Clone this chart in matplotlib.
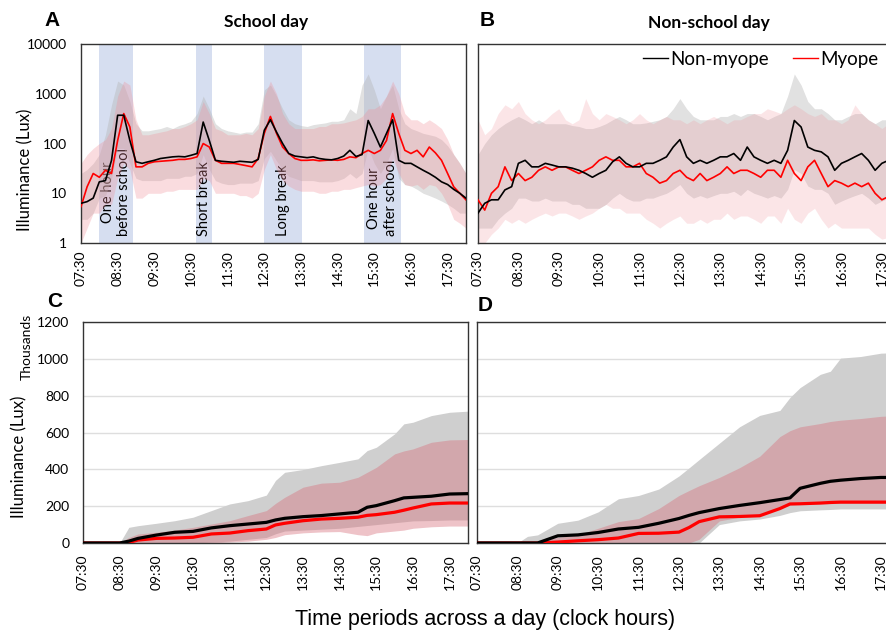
import numpy as np
import matplotlib
matplotlib.use('Agg')
import matplotlib.pyplot as plt

plt.rcParams['font.family'] = ['Lato', 'DejaVu Sans']

# ---- data -----------------------------------------------------------------
# panels A/B: mean illuminance (lux), 10-minute samples from 07:30 to 18:00
t_min = np.arange(0, 640, 10)
t_hr = 7.5 + t_min / 60.0

nm_school = [6.3, 6.8, 8, 17, 18, 46,
             370, 370, 115, 43, 40, 43,
             46, 50, 52, 54, 55, 54,
             58, 63, 270, 115, 46, 44,
             43, 42, 44, 43, 42, 48,
             185, 300, 170, 100, 63, 56,
             54, 52, 54, 50, 48, 47,
             50, 56, 73, 55, 60, 290,
             160, 85, 160, 300, 46, 40,
             40, 34, 29, 25, 21, 17,
             15, 12, 10, 8]
my_school = [5.4, 13.5, 25, 21, 29, 25,
             115, 400, 215, 34, 34, 40,
             43, 44, 45, 46, 48, 48,
             50, 54, 100, 85, 46, 40,
             40, 40, 38, 36, 34, 50,
             160, 350, 160, 85, 63, 50,
             46, 46, 47, 45, 46, 47,
             46, 48, 54, 52, 63, 73,
             63, 73, 115, 400, 160, 73,
             63, 73, 54, 85, 65, 46,
             25, 13.5, 10, 7.4]
nm_school_hi = [25, 30, 40, 60, 150, 600,
                1800, 1500, 700, 250, 180, 180,
                190, 200, 220, 200, 230, 250,
                280, 400, 900, 500, 250, 200,
                180, 170, 160, 170, 170, 250,
                1200, 1500, 900, 500, 300, 250,
                230, 220, 240, 250, 260, 280,
                280, 300, 500, 400, 1500, 2500,
                1200, 500, 900, 1500, 500, 250,
                200, 180, 160, 150, 140, 120,
                90, 60, 40, 25]
nm_school_lo = [3, 3, 4, 8, 9, 20,
                80, 80, 40, 20, 18, 18,
                18, 18, 20, 20, 20, 22,
                22, 25, 60, 30, 18, 16,
                15, 15, 16, 16, 16, 18,
                50, 70, 45, 30, 22, 20,
                18, 18, 18, 17, 17, 17,
                18, 20, 25, 20, 25, 80,
                40, 25, 40, 80, 20, 15,
                14, 12, 10, 9, 8, 7,
                6, 5, 4, 4]
my_school_hi = [40, 60, 80, 100, 120, 200,
                900, 1800, 1500, 300, 150, 150,
                160, 170, 180, 200, 200, 220,
                250, 300, 700, 400, 200, 180,
                150, 150, 150, 160, 150, 200,
                900, 1800, 1000, 400, 250, 200,
                200, 200, 200, 220, 220, 250,
                250, 260, 280, 300, 350, 500,
                500, 600, 900, 1800, 1000, 400,
                300, 300, 250, 300, 250, 200,
                120, 60, 40, 25]
my_school_lo = [1, 2, 4, 4, 6, 6,
                20, 40, 30, 8, 8, 10,
                10, 10, 11, 11, 12, 12,
                12, 12, 20, 18, 10, 10,
                10, 10, 9, 9, 8, 10,
                30, 60, 30, 18, 14, 12,
                11, 11, 11, 10, 10, 11,
                11, 12, 12, 13, 14, 15,
                14, 15, 20, 50, 25, 15,
                14, 15, 12, 15, 14, 10,
                6, 3, 2.5, 2]

nm_free = [4.0, 6.3, 7.4, 7.4, 11.7, 13.6,
           40, 46, 34, 34, 40, 37,
           34, 34, 32, 29, 25, 21,
           25, 29, 43, 54, 40, 34,
           34, 40, 40, 46, 54, 85,
           120, 54, 40, 46, 40, 46,
           54, 54, 63, 46, 85, 54,
           46, 40, 46, 40, 73, 290,
           215, 85, 73, 68, 54, 29,
           40, 46, 54, 63, 46, 29,
           40, 46, 54, 63]
my_free = [7.4, 4.6, 10, 13.6, 34, 18,
           25, 18, 21, 29, 34, 29,
           34, 34, 29, 25, 29, 34,
           46, 54, 46, 46, 34, 34,
           40, 25, 21, 16, 18, 25,
           29, 21, 18, 25, 18, 21,
           25, 34, 25, 29, 29, 25,
           21, 29, 29, 21, 46, 25,
           18, 34, 46, 25, 13.6, 18,
           16, 13.6, 16, 13.6, 16, 10,
           7.4, 8.6, 7.4, 5.4]
nm_free_hi = [60, 100, 150, 200, 250, 300,
              350, 300, 250, 300, 250, 250,
              250, 250, 230, 220, 200, 200,
              220, 250, 300, 350, 300, 250,
              250, 260, 280, 300, 350, 500,
              800, 500, 350, 300, 300, 300,
              350, 350, 400, 350, 400, 400,
              350, 300, 350, 400, 900, 2500,
              1500, 700, 500, 500, 400, 300,
              300, 350, 400, 400, 300, 250,
              300, 300, 300, 300]
nm_free_lo = [2, 2, 2, 3, 4, 5,
              8, 8, 7, 7, 8, 7,
              7, 7, 6, 6, 5, 5,
              5, 6, 8, 10, 8, 7,
              7, 8, 8, 9, 10, 12,
              15, 10, 8, 9, 8, 9,
              10, 10, 11, 9, 12, 10,
              9, 8, 9, 8, 12, 30,
              25, 14, 12, 12, 10, 6,
              7, 8, 9, 10, 8, 6,
              7, 8, 9, 10]
my_free_hi = [300, 150, 200, 400, 600, 500,
              700, 400, 300, 250, 300, 400,
              500, 300, 250, 300, 800, 400,
              300, 400, 350, 300, 250, 300,
              400, 300, 250, 300, 350, 300,
              300, 250, 300, 250, 300, 350,
              300, 250, 300, 300, 350, 400,
              400, 500, 450, 400, 500, 600,
              500, 400, 350, 400, 300, 300,
              250, 300, 600, 400, 300, 250,
              200, 250, 300, 250]
my_free_lo = [1, 1, 1.5, 2, 3, 2.5,
              3, 2.5, 3, 3.5, 4, 3.5,
              4, 4, 3.5, 3, 3.5, 4,
              5, 6, 5, 5, 4, 4,
              4, 3, 2.5, 2, 2.5, 3,
              3.5, 2.5, 2.5, 3, 2.5, 3,
              3, 4, 3, 3.5, 3.5, 3,
              2.5, 3.5, 3.5, 2.5, 5, 3,
              2.5, 4, 5, 3, 2, 2.5,
              2, 2, 2, 2, 2, 1.5,
              1.2, 1.3, 1.2, 1]

# panels C/D: cumulative illuminance (thousands of lux)
t_cum = [7.5, 8.5, 8.75, 9, 9.5, 10, 10.5, 11, 11.5, 12, 12.5, 12.75, 13,
         13.5, 14, 14.5, 15, 15.25, 15.5, 16, 16.25, 16.5, 17, 17.5, 18]

nm_cum_school = [0, 0, 10, 25, 43, 58, 63, 82, 94, 103, 112, 125, 134,
                 143, 149, 158, 167, 194, 203, 230, 245, 248, 254, 266, 268]
my_cum_school = [0, 0, 3, 16, 25, 27, 31, 49, 54, 67, 76, 98, 107,
                 121, 130, 134, 140, 150, 154, 167, 178, 190, 212, 217, 217]
nm_cum_school_hi = [0, 0, 85, 94, 107, 121, 140, 176, 212, 230, 260, 340, 384,
                    399, 420, 438, 457, 502, 520, 593, 647, 656, 692, 710, 716]
nm_cum_school_lo = [0, 0, 0, 0, 0, 0, 0, 5, 10, 20, 30, 50, 65,
                    70, 75, 80, 90, 95, 100, 110, 115, 120, 122, 125, 125]
my_cum_school_hi = [0, 0, 30, 49, 58, 70, 85, 103, 121, 149, 176, 215, 248,
                    303, 325, 330, 357, 384, 411, 484, 500, 511, 547, 560, 562]
my_cum_school_lo = [0, 0, 0, 0, 0, 0, 0, 0, 5, 10, 20, 30, 45,
                    55, 60, 62, 45, 40, 55, 65, 70, 80, 88, 92, 92]

nm_cum_free = [0, 0, 0, 0, 39, 44, 57, 76, 85, 107, 133, 150, 165,
               187, 204, 219, 236, 245, 297, 324, 335, 341, 350, 356, 356]
my_cum_free = [0, 0, 0, 0, 5, 12, 18, 27, 52, 53, 59, 84, 116,
               142, 144, 148, 187, 212, 213, 217, 220, 222, 222, 222, 222]
nm_cum_free_hi = [0, 0, 36, 44, 107, 124, 169, 240, 258, 293, 364, 408, 453,
                  542, 631, 693, 720, 791, 844, 916, 933, 1004, 1013, 1031, 1035]
nm_cum_free_lo = [0, 0, 0, 0, 0, 0, 0, 0, 0, 0, 0, 0, 0,
                  100, 120, 130, 150, 165, 175, 180, 182, 185, 185, 185, 185]
my_cum_free_hi = [0, 0, 0, 10, 30, 44, 80, 116, 133, 187, 258, 285, 311,
                  356, 409, 471, 578, 610, 631, 649, 660, 667, 676, 688, 693]
my_cum_free_lo = [0, 0, 0, 0, 0, 0, 0, 0, 0, 0, 0, 0, 20,
                  120, 140, 150, 190, 205, 210, 212, 214, 215, 215, 215, 215]

# school-day periods (start, end in hours) and their labels
periods = [(8.0, 8.92), (10.63, 11.07), (12.5, 13.52), (15.23, 16.22)]
period_labels = ['One hour\nbefore school', 'Short break', 'Long break',
                 'One hour\nafter school']

tick_hours = [7.5 + i for i in range(11)]
tick_labels = ['%02d:30' % (7 + i) for i in range(11)]

# ---- styling --------------------------------------------------------------
GREY = '#b4b4b4'
PINK = '#f08c96'
CUM_GREY = '#cfcfcf'
CUM_PINK = '#d8707c'
BAND_BLUE = '#d6def0'


def style_axis(ax, pad_x):
    ax.set_xlim(7.5, 18.0)
    ax.set_xticks(tick_hours)
    ax.set_xticklabels(tick_labels, rotation=90, fontsize=10)
    ax.tick_params(axis='both', length=0, labelsize=10)
    ax.tick_params(axis='x', pad=pad_x)
    ax.tick_params(axis='y', pad=10)
    for s in ax.spines.values():
        s.set_color('#333333')
        s.set_linewidth(1.0)


fig = plt.figure(figsize=(8.86, 6.33), dpi=100)

axA = fig.add_axes([0.0914, 0.616, 0.4345, 0.3145])
axB = fig.add_axes([0.5395, 0.616, 0.4786, 0.3145])
axC = fig.add_axes([0.0937, 0.1422, 0.4345, 0.349])
axD = fig.add_axes([0.5384, 0.1422, 0.4786, 0.349])

# panel A
for (a, b), lab in zip(periods, period_labels):
    axA.axvspan(a, b, color=BAND_BLUE, lw=0, zorder=0)
    axA.text((a + b) / 2, 1.38, lab, rotation=90, ha='center', va='bottom',
             multialignment='center', fontsize=10.5, zorder=1)

for ax, nm, my, nm_hi, nm_lo, my_hi, my_lo, pa in [
        (axA, nm_school, my_school, nm_school_hi, nm_school_lo, my_school_hi, my_school_lo, 0.3),
        (axB, nm_free, my_free, nm_free_hi, nm_free_lo, my_free_hi, my_free_lo, 0.22)]:
    ax.fill_between(t_hr, nm_lo, nm_hi, color=GREY, alpha=0.4, lw=0, zorder=2)
    ax.fill_between(t_hr, my_lo, my_hi, color=PINK, alpha=pa, lw=0, zorder=2)
    ax.plot(t_hr, my, color='#ff0000', lw=1.2, zorder=3)
    ax.plot(t_hr, nm, color='black', lw=1.2, zorder=4)
    ax.set_yscale('log')
    ax.set_ylim(1, 10000)
    ax.minorticks_off()
    style_axis(ax, 5)

axA.set_yticks([1, 10, 100, 1000, 10000])
axA.set_yticklabels(['1', '10', '100', '1000', '10000'])
axB.set_yticks([])

axB.plot([], [], color='black', lw=1, label='Non-myope')
axB.plot([], [], color='#ff0000', lw=1, label='Myope')
handles, labels = axB.get_legend_handles_labels()
axB.legend(handles[-2:], labels[-2:], loc='upper right', bbox_to_anchor=(0.985, 1.05),
           ncol=2, frameon=False, fontsize=13.5, handlelength=1.3,
           handletextpad=0.15, columnspacing=1.3)

# panels C and D
for ax, nm, my, nm_hi, nm_lo, my_hi, my_lo in [
        (axC, nm_cum_school, my_cum_school, nm_cum_school_hi, nm_cum_school_lo,
         my_cum_school_hi, my_cum_school_lo),
        (axD, nm_cum_free, my_cum_free, nm_cum_free_hi, nm_cum_free_lo,
         my_cum_free_hi, my_cum_free_lo)]:
    ax.fill_between(t_cum, nm_lo, nm_hi, color=CUM_GREY, lw=0, zorder=1)
    ax.fill_between(t_cum, my_lo, my_hi, color=CUM_PINK, alpha=0.42, lw=0, zorder=2)
    ax.plot(t_cum, my, color='#ff0000', lw=2.3, zorder=3)
    ax.plot(t_cum, nm, color='black', lw=2.3, zorder=4)
    ax.set_ylim(0, 1200)
    ax.set_yticks([0, 200, 400, 600, 800, 1000, 1200])
    ax.grid(axis='y', color='#dedede', lw=1, zorder=0)
    ax.set_axisbelow(True)
    style_axis(ax, 8)

axD.set_yticklabels([])

# titles and labels
fig.text(52 / 886, 1 - 20 / 633, 'A', fontsize=15, fontweight='bold',
         family='Liberation Sans', ha='center', va='center')
fig.text(487 / 886, 1 - 20 / 633, 'B', fontsize=15, fontweight='bold',
         family='Liberation Sans', ha='center', va='center')
fig.text(55 / 886, 1 - 301 / 633, 'C', fontsize=15, fontweight='bold',
         family='Liberation Sans', ha='center', va='center')
fig.text(485 / 886, 1 - 305 / 633, 'D', fontsize=15, fontweight='bold',
         family='Liberation Sans', ha='center', va='center')
fig.text(266 / 886, 1 - 22 / 633, 'School day', fontsize=12.5, fontweight='bold',
         ha='center', va='center')
fig.text(709 / 886, 1 - 23 / 633, 'Non-school day', fontsize=12.5, fontweight='bold',
         ha='center', va='center')
fig.text(25 / 886, 1 - 170 / 633, 'Illuminance (Lux)', rotation=90, fontsize=12,
         ha='center', va='center')
fig.text(19 / 886, 1 - 457 / 633, 'Illuminance (Lux)', rotation=90, fontsize=12,
         ha='center', va='center')
fig.text(27 / 886, 1 - 347 / 633, 'Thousands', rotation=90, fontsize=10,
         ha='center', va='center')
fig.text(485 / 886, 1 - 620 / 633, 'Time periods across a day (clock hours)',
         family='Liberation Sans', fontsize=15.5,
         ha='center', va='center')

fig.savefig('out.png', dpi=100)
